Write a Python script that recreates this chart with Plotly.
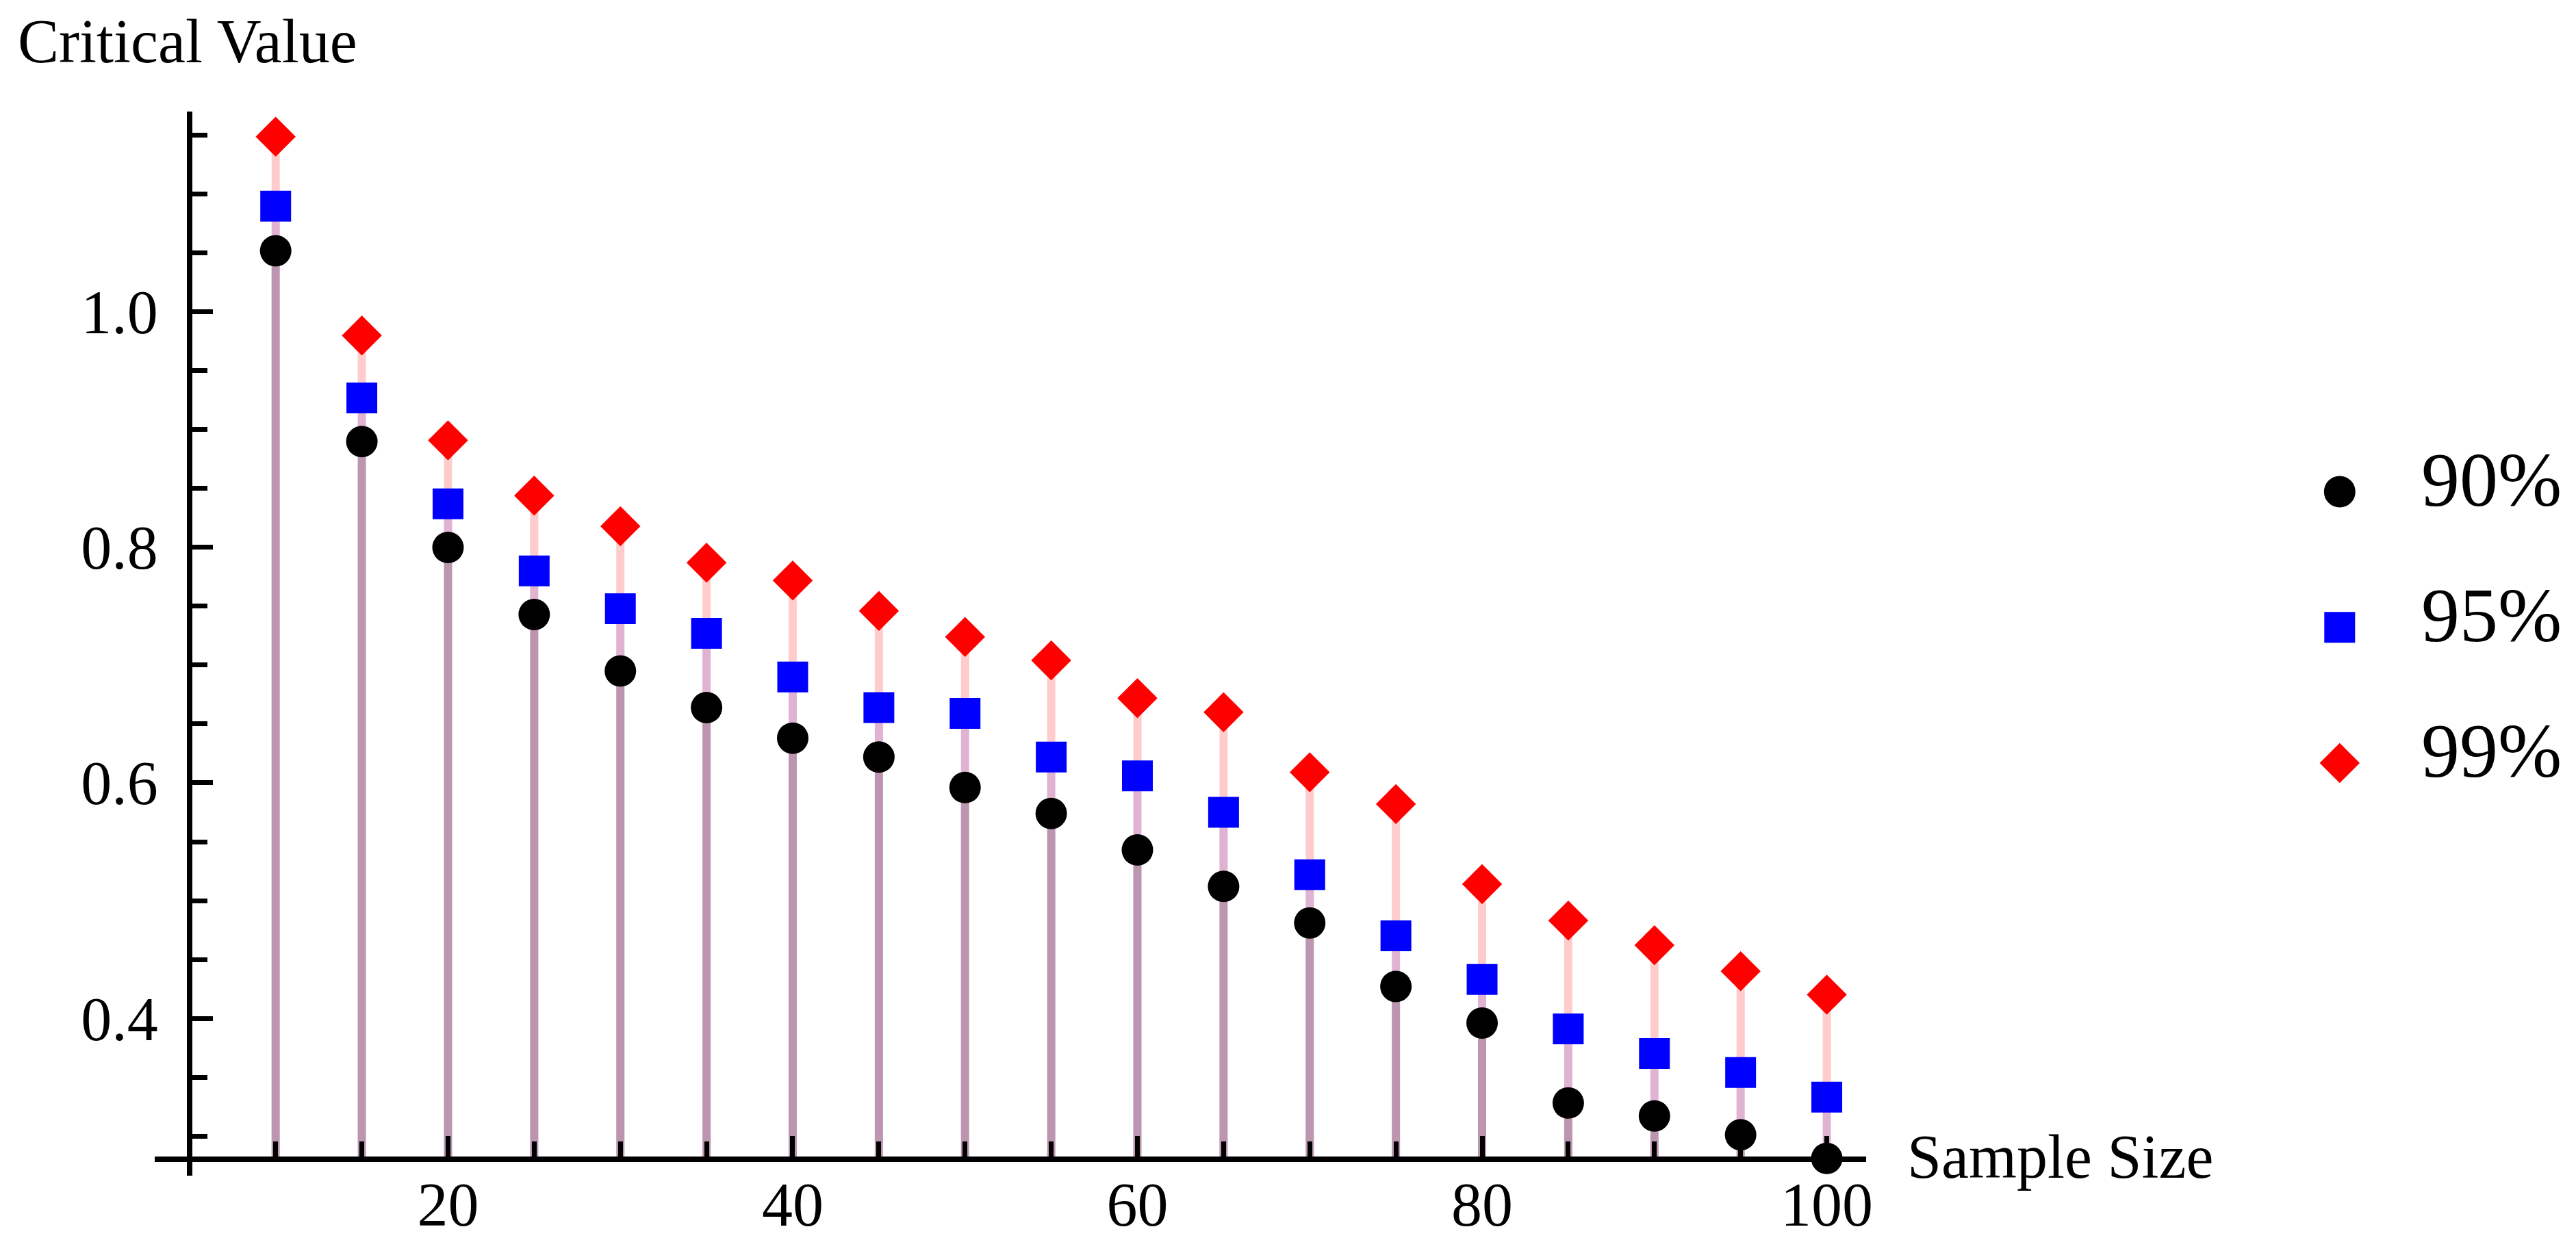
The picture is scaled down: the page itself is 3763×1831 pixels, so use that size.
import plotly.graph_objects as go

# ---------------- data ----------------
sample_size = [10, 15, 20, 25, 30, 35, 40, 45, 50, 55, 60, 65, 70, 75, 80, 85, 90, 95, 100]
cv_90 = [1.052, 0.890, 0.800, 0.743, 0.695, 0.664, 0.638, 0.622, 0.596, 0.574, 0.543,
         0.512, 0.481, 0.427, 0.396, 0.328, 0.317, 0.301, 0.281]
cv_95 = [1.090, 0.927, 0.837, 0.780, 0.748, 0.727, 0.690, 0.664, 0.659, 0.622, 0.606,
         0.575, 0.522, 0.470, 0.433, 0.391, 0.370, 0.354, 0.333]
cv_99 = [1.149, 0.980, 0.891, 0.844, 0.818, 0.787, 0.772, 0.746, 0.724, 0.704, 0.672,
         0.660, 0.609, 0.582, 0.514, 0.483, 0.462, 0.440, 0.420]
series_names = ["90%", "95%", "99%"]

x_tick_vals = [20, 40, 60, 80, 100]
x_tick_text = ["20", "40", "60", "80", "100"]
y_tick_vals = [0.4, 0.6, 0.8, 1.0]
y_tick_text = ["0.4", "0.6", "0.8", "1.0"]
x_title = "Sample Size"
y_title = "Critical Value"

# ---------------- styling / geometry ----------------
AXIS_ORIGIN_X = 5
AXIS_ORIGIN_Y = 0.28
X_RANGE = [3.0, 102.3]
Y_RANGE = [0.2663, 1.1703]
SCREEN_W, SCREEN_H = 3763, 1831
BODY_MARGIN = 8                      # default page body margin around the plot div
W, H = SCREEN_W - 2 * BODY_MARGIN, SCREEN_H - 2 * BODY_MARGIN
# plot box in screen pixels
PX_L, PX_R, PX_T, PX_B = 227, 2733, 163, 1718
FONT = "Liberation Serif, Times New Roman, serif"
LABEL_SIZE = 90


def fx(px):
    return (px - BODY_MARGIN) / W


def fy(py):
    return 1 - (py - BODY_MARGIN) / H


marker_styles = [
    dict(symbol="circle", size=46, color="#000000"),
    dict(symbol="square", size=45, color="#0000FF"),
    dict(symbol="diamond", size=45, color="#FF0000"),
]
stem_colors = ["rgba(0,0,0,0.16)", "rgba(0,0,255,0.12)", "rgba(255,0,0,0.20)"]
series_vals = [cv_90, cv_95, cv_99]

fig = go.Figure()

# stems (filling to the axis), drawn first: red, blue, black
for vals, col in reversed(list(zip(series_vals, stem_colors))):
    fig.add_trace(go.Scatter(
        x=sample_size, y=vals, mode="markers",
        marker=dict(size=4, opacity=0),
        error_y=dict(type="data", symmetric=False,
                     array=[0] * len(vals),
                     arrayminus=[v - AXIS_ORIGIN_Y for v in vals],
                     color=col, thickness=12, width=0),
        showlegend=False, hoverinfo="skip",
    ))

# points
for name, vals, ms in zip(series_names, series_vals, marker_styles):
    fig.add_trace(go.Scatter(
        x=sample_size, y=vals, mode="markers", name=name,
        marker=dict(symbol=ms["symbol"], size=ms["size"], color=ms["color"],
                    line=dict(width=0)),
        cliponaxis=False, showlegend=False,
    ))

# legend glyphs (own small axis pair, one category row per series)
for name, ms in zip(series_names, marker_styles):
    fig.add_trace(go.Scatter(
        x=[0], y=[name], xaxis="x2", yaxis="y2", mode="markers",
        marker=dict(symbol=ms["symbol"], size=ms["size"], color=ms["color"],
                    line=dict(width=0)),
        showlegend=False, hoverinfo="skip", cliponaxis=False,
    ))

axis_common = dict(
    showline=True, linecolor="black", linewidth=8,
    ticks="inside", tickcolor="black", tickwidth=7, ticklen=30,
    showgrid=False, zeroline=False,
    tickfont=dict(family=FONT, size=LABEL_SIZE, color="black"),
)

x_pos_of_origin = PX_L + (AXIS_ORIGIN_X - X_RANGE[0]) / (X_RANGE[1] - X_RANGE[0]) * (PX_R - PX_L)
y_pos_of_origin = PX_T + (Y_RANGE[1] - AXIS_ORIGIN_Y) / (Y_RANGE[1] - Y_RANGE[0]) * (PX_B - PX_T)

annotations = [
    dict(text=y_title, xref="paper", yref="paper",
         x=fx(24), y=fy(9), xanchor="left", yanchor="top", showarrow=False,
         font=dict(family=FONT, size=LABEL_SIZE, color="black")),
    dict(text=x_title, xref="paper", yref="paper",
         x=fx(2791), y=fy(1690), xanchor="left", yanchor="middle", showarrow=False,
         font=dict(family=FONT, size=LABEL_SIZE, color="black")),
]
for i, name in enumerate(series_names):
    annotations.append(dict(
        text=name, xref="x2", yref="y2", x=0, y=i, xshift=117, yshift=18,
        xanchor="left", yanchor="middle", showarrow=False,
        font=dict(family=FONT, size=112, color="black")))

fig.update_layout(
    width=W, height=H, autosize=False,
    paper_bgcolor="white", plot_bgcolor="white",
    margin=dict(l=0, r=0, t=0, b=0, pad=0),
    xaxis=dict(
        domain=[fx(PX_L), fx(PX_R)],
        range=X_RANGE, anchor="free", position=fy(y_pos_of_origin),
        tickmode="array", tickvals=x_tick_vals, ticktext=x_tick_text,
        minor=dict(tickmode="linear", tick0=0, dtick=5, ticks="inside",
                   ticklen=22, tickwidth=7, tickcolor="black", showgrid=False),
        ticklabelstandoff=-15,
        **axis_common,
    ),
    yaxis=dict(
        domain=[fy(PX_B), fy(PX_T)],
        range=Y_RANGE, anchor="free", position=fx(x_pos_of_origin),
        tickmode="array", tickvals=y_tick_vals, ticktext=y_tick_text,
        minor=dict(tickmode="linear", tick0=0, dtick=0.05, ticks="inside",
                   ticklen=22, tickwidth=7, tickcolor="black", showgrid=False),
        ticklabelstandoff=24,
        **axis_common,
    ),
    xaxis2=dict(domain=[fx(3400), fx(3452)], range=[-1, 1], anchor="y2",
                visible=False, fixedrange=True),
    yaxis2=dict(domain=[fy(1214), fy(619.5)], range=[2.5, -0.5], anchor="x2",
                type="category", categoryorder="array", categoryarray=series_names,
                visible=False, fixedrange=True),
    annotations=annotations,
    showlegend=False,
)

fig.write_html("out.html")
